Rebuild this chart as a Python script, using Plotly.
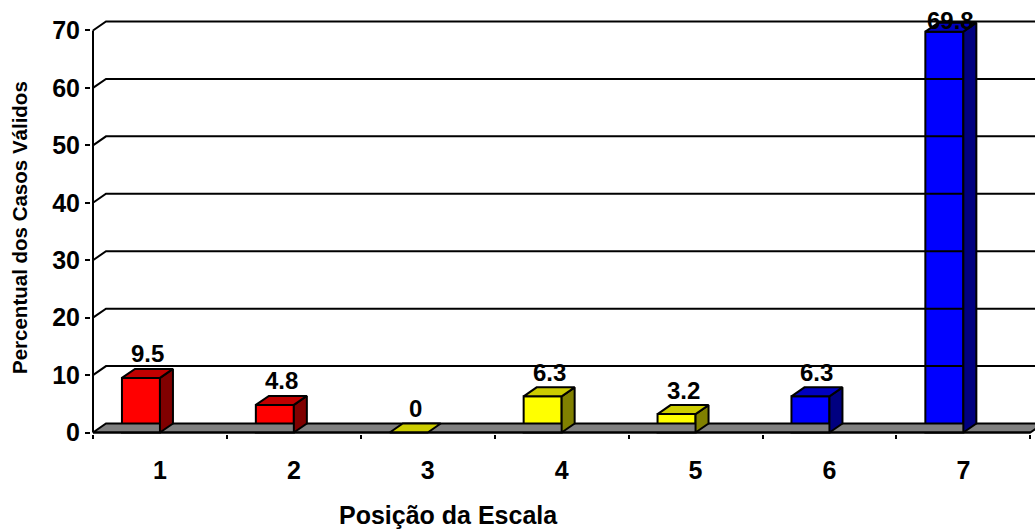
import plotly.graph_objects as go

# ---- data ----
categories = ["1", "2", "3", "4", "5", "6", "7"]
values = [9.5, 4.8, 0, 6.3, 3.2, 6.3, 69.8]
groups = ["red", "red", "yellow", "yellow", "yellow", "blue", "blue"]
y_ticks = [0, 10, 20, 30, 40, 50, 60, 70]
x_title = "Posição da Escala"
y_title = "Percentual dos Casos Válidos"

# ---- styles ----
palette = {
    "red": ("#FF0000", "#C00000", "#800000"),
    "yellow": ("#FFFF00", "#CCCC00", "#808000"),
    "blue": ("#0000FF", "#0000C0", "#000080"),
}
FONT = "Arial, Liberation Sans, sans-serif"
W, H = 1035, 529
ml, mr, mt, mb = 91, 0, 20, 95
px_x = 133.9          # pixels per category
px_y = 5.743          # pixels per value unit
xmin = 0.5 - 2 / px_x
xmax = xmin + (W - ml - mr) / px_x
ymin = -1.5 / px_y
ymax = ymin + (H - mt - mb) / px_y
bar_w = 38 / px_x     # front face width (category units)
dx = 13 / px_x        # 3D depth offset
dy = 9 / px_y
LW = 2

n = len(categories)
xpos = list(range(1, n + 1))
fig = go.Figure()

def poly(xs, ys, fill, lw=LW):
    fig.add_trace(go.Scatter(x=xs + [xs[0]], y=ys + [ys[0]], mode="lines",
                             fill="toself", fillcolor=fill,
                             line=dict(color="black", width=lw),
                             hoverinfo="skip", showlegend=False))

def line(xs, ys, lw=LW):
    fig.add_trace(go.Scatter(x=xs, y=ys, mode="lines",
                             line=dict(color="black", width=lw),
                             hoverinfo="skip", showlegend=False))

# back wall gridlines (with depth diagonal)
for t in y_ticks:
    if t == 0:
        continue
    line([0.5, 0.5 + dx, xmax + 1], [t, t + dy, t + dy])

# floor
poly([0.5, n + 0.5, n + 0.5 + dx, 0.5 + dx], [0, 0, dy, dy], "#808080")
# front-left vertical axis line
line([0.5, 0.5], [0, y_ticks[-1]])

# bars
for xi, v, g in zip(xpos, values, groups):
    front, top, side = palette[g]
    x0, x1 = xi - bar_w, xi
    if v > 0:
        poly([x1, x1, x1 + dx, x1 + dx], [0, v, v + dy, dy], side)
    poly([x0, x0 + dx, x1 + dx, x1], [v, v + dy, v + dy, v], top)
    if v > 0:
        fig.add_trace(go.Bar(x=[xi], y=[v], base=0, width=bar_w, offset=-bar_w,
                             marker=dict(color=front, line=dict(color="black", width=LW)),
                             hoverinfo="skip", showlegend=False))
    ly = min(v + dy + 15 / px_y, ymax)
    fig.add_annotation(x=xi - bar_w / 2 + dx / 2, y=ly, text=f"{v:g}", showarrow=False,
                       xanchor="center", yanchor="middle",
                       font=dict(family=FONT, size=24, color="black", weight="bold"))

# front baseline
line([0.5, n + 0.5], [0, 0])

fig.update_layout(
    width=W, height=H,
    margin=dict(l=ml, r=mr, t=mt, b=mb, autoexpand=False),
    paper_bgcolor="white", plot_bgcolor="white",
    showlegend=False, barmode="overlay",
    xaxis=dict(range=[xmin, xmax], tickmode="array", tickvals=xpos, ticktext=categories,
               ticks="", showgrid=False, zeroline=False, showline=False, automargin=False,
               ticklabelstandoff=19,
               tickfont=dict(family=FONT, size=25, color="black", weight="bold"),
               minor=dict(tickmode="array", tickvals=[i + 0.5 for i in range(n + 1)],
                          ticks="outside", ticklen=4, tickwidth=2, tickcolor="black",
                          showgrid=False)),
    yaxis=dict(range=[ymin, ymax], tickmode="array", tickvals=y_ticks,
               ticks="outside", ticklen=5, tickwidth=2, tickcolor="black",
               showgrid=False, zeroline=False, showline=False, automargin=False,
               tickfont=dict(family=FONT, size=25, color="black", weight="bold")),
    annotations=list(fig.layout.annotations) + [
        dict(text=x_title, xref="paper", yref="paper", x=(448 - ml) / (W - ml - mr),
             y=-(515 - (H - mb)) / (H - mt - mb), xanchor="center", yanchor="middle",
             showarrow=False, font=dict(family=FONT, size=25, color="black", weight="bold")),
        dict(text=y_title, xref="paper", yref="paper", x=-(ml - 19) / (W - ml - mr),
             y=1 - (228 - mt) / (H - mt - mb), xanchor="center", yanchor="middle",
             textangle=-90, showarrow=False,
             font=dict(family=FONT, size=20.5, color="black", weight="bold")),
    ],
)

fig.write_html("out.html", config={"displayModeBar": False},
               post_script="document.body.style.margin='0';document.body.style.padding='0';")
